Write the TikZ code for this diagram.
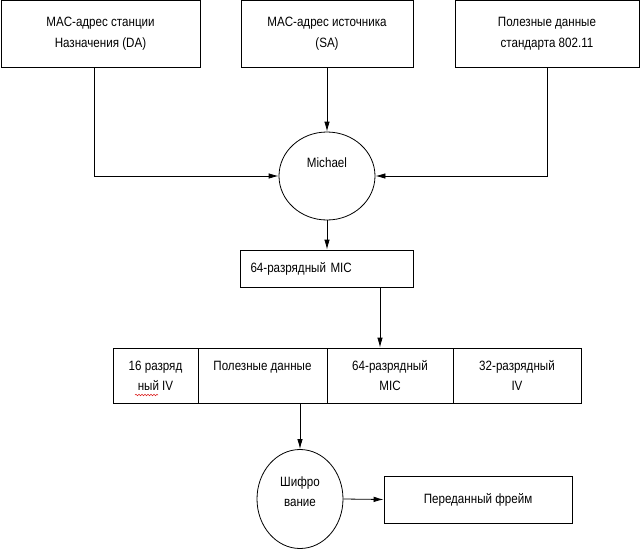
\documentclass[tikz,border=0pt]{standalone}
\usepackage{fontspec}
\setmainfont{Liberation Sans}[FakeStretch=0.86]
\usepackage{tikz}
\usetikzlibrary{arrows.meta, positioning, calc, shapes.geometric, decorations.pathmorphing}
\definecolor{myred}{RGB}{220, 30, 30}

\begin{document}
\begin{tikzpicture}[x=1pt, y=-1pt, line width=0.8pt,
    box/.style={rectangle, draw, inner sep=0pt, align=center, font=\fontsize{13.5}{21}\selectfont},
    cell/.style={box, minimum height=55pt, font=\fontsize{13.5}{20}\selectfont},
    circ/.style={ellipse, draw, inner sep=0pt, align=center, font=\fontsize{13.5}{20}\selectfont},
    arr/.style={-{Latex[length=10pt, width=5.5pt]}}]
    \useasboundingbox (0,0) rectangle (641,549);

    % входы
    \node[box, minimum width=199pt, minimum height=67pt] (da) at (100.5, 34) {MAC-адрес станции\\Назначения (DA)};
    \node[box, minimum width=172pt, minimum height=67pt] (sa) at (327, 34) {MAC-адрес источника\\(SA)};
    \node[box, minimum width=184pt, minimum height=67pt] (pd) at (547, 34) {Полезные данные\\стандарта 802.11};

    % Michael
    \node[circ, minimum width=96pt, minimum height=88pt, text depth=26pt] (michael) at (327, 176) {Michael};
    \draw[arr] ([xshift=-6pt]da.south) |- (michael.west);
    \draw[arr] (sa.south) -- (michael.north);
    \draw[arr] (pd.south) |- (michael.east);

    % MIC
    \node[box, minimum width=173pt, minimum height=37pt, text width=153pt, inner xsep=10pt, align=left] (mic64) at (327, 268.5) {64-разрядный MIC};
    \draw[arr] (michael.south) -- (mic64.north);

    % кадр
    \node[cell, minimum width=85pt] (iv16) at (155.5, 375.5) {16 разряд\\ный IV};
    \node[cell, minimum width=129pt] (data) at (262.5, 375.5) {Полезные данные\\\phantom{x}};
    \node[cell, minimum width=126pt] (cmic) at (390, 375.5) {64-разрядный\\MIC};
    \node[cell, minimum width=128pt] (iv32) at (517, 375.5) {32-разрядный\\IV};
    \draw[myred, line width=0.5pt, decorate, decoration={snake, amplitude=0.8pt, segment length=3pt}] (135,395) -- (158,395);
    \draw[arr] ([xshift=53pt]mic64.south) -- ([xshift=53pt]mic64.south |- cmic.north);

    % шифрование
    \node[circ, minimum width=86pt, minimum height=99pt, text depth=14pt] (shifr) at (300, 499) {Шифро\\вание};
    \node[box, minimum width=188pt, minimum height=47pt] (frame) at (478, 499.5) {Переданный фрейм};
    \draw[arr] (data.south -| shifr.north) -- (shifr.north);
    \draw[arr] (shifr.east) -- (frame.west);
\end{tikzpicture}
\end{document}
